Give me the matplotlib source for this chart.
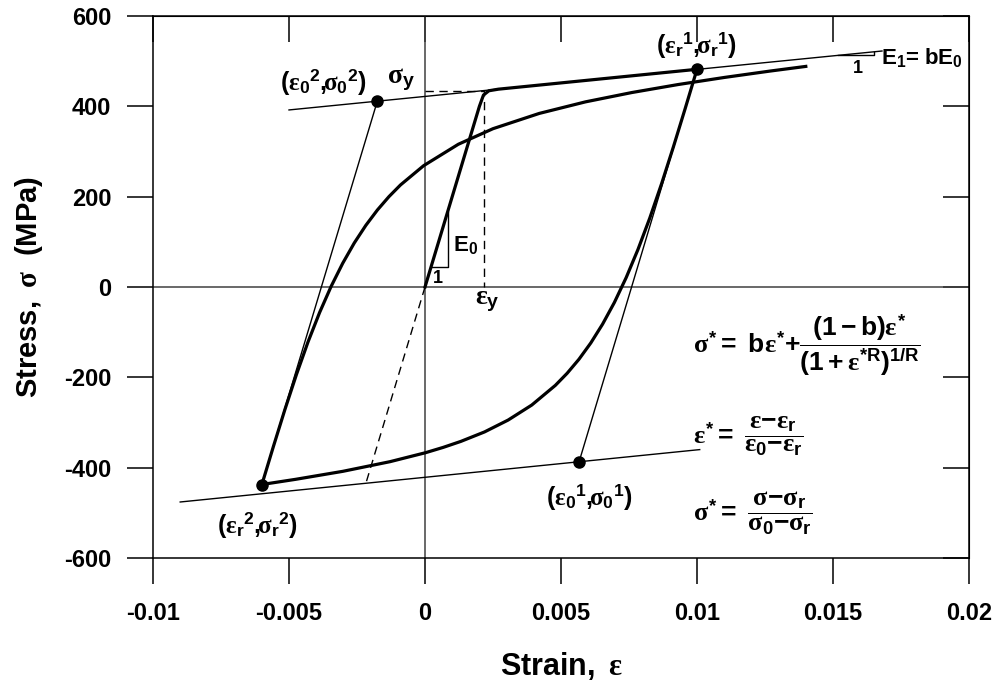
import matplotlib
matplotlib.use("Agg")
import matplotlib.pyplot as plt

plt.rcParams['font.family'] = ['Liberation Sans', 'DejaVu Sans']
plt.rcParams['font.weight'] = 'bold'
plt.rcParams['mathtext.fontset'] = 'custom'
plt.rcParams['mathtext.rm'] = 'Liberation Serif'
plt.rcParams['mathtext.it'] = 'Liberation Serif'
plt.rcParams['mathtext.bf'] = 'Liberation Sans:bold'
plt.rcParams['mathtext.sf'] = 'Liberation Sans:bold'

# initial loading (elastic + hardening)
eps_load = [0, 0.0020, 0.00215, 0.00235, 0.0027, 0.01]
sig_load = [0, 400, 425, 434.5, 438, 482]

# first reversal branch (from r1 down to r2)
eps_b1 = [0.01, 0.009566, 0.009132, 0.008698, 0.008264, 0.00783, 0.007396, 0.006962,
          0.006528, 0.006094, 0.00566, 0.005226, 0.004792, 0.003924, 0.003056, 0.002188,
          0.00132, 0.000669, 0.000018, -0.001284, -0.00302, -0.004756, -0.006]
sig_b1 = [482, 395.2, 310.2, 228.7, 152.6, 83.1, 20.8, -34.3,
          -82.3, -124, -160, -191, -217.8, -261.4, -294.6, -320.9,
          -341.8, -355.1, -366.9, -386.7, -408.1, -425.8, -437.3]

# second reversal branch (from r2 up)
eps_b2 = [-0.006, -0.005575, -0.00515, -0.004725, -0.0043, -0.003875, -0.00345, -0.003025,
          -0.0026, -0.002175, -0.00175, -0.001325, -0.0009, -0.00005, 0.001225, 0.0025,
          0.0042, 0.0059, 0.0076, 0.0093, 0.011, 0.0127, 0.014]
sig_b2 = [-438, -353.4, -271.2, -193.5, -121.5, -56.5, 1.5, 52.6,
          97.5, 136.5, 170.5, 200.1, 226.0, 268.6, 316.0, 350.5,
          384.3, 409.9, 430.5, 448.2, 463.9, 478.2, 488.4]

# asymptotes (slope E1)
eps_up = [-0.005, 0.0168]
sig_up = [392, 522.5]
eps_lo = [-0.009, 0.0101]
sig_lo = [-476, -360]

# elastic unload / reload lines
eps_un = [0.01, 0.00566]
sig_un = [482, -388]
eps_re = [-0.006, -0.00175]
sig_re = [-438, 412]

# yield construction lines
eps_y, sig_y = 0.00217, 434
eps_dash = [0, eps_y, eps_y]
sig_dash = [sig_y, sig_y, 0]
eps_dash2 = [0, -eps_y]
sig_dash2 = [0, -sig_y]

# marked points
pt_eps = [0.01, 0.00566, -0.006, -0.00175]
pt_sig = [482, -388, -438, 412]

# slope triangles
tri0_eps = [0.00022, 0.00083, 0.00083]
tri0_sig = [44, 44, 166]
tri1_eps = [0.0152, 0.0165, 0.0165]
tri1_sig = [513, 513, 521]

xticks = [-0.01, -0.005, 0, 0.005, 0.01, 0.015, 0.02]
xlabels = ['-0.01', '-0.005', '0', '0.005', '0.01', '0.015', '0.02']
yticks = [-600, -400, -200, 0, 200, 400, 600]
ylabels = ['-600', '-400', '-200', '0', '200', '400', '600']

fig = plt.figure(figsize=(9.97, 6.87), dpi=100)
ax = fig.add_axes([153/997, 129/687, 816/997, 542/687])

ax.axhline(0, color='#404040', lw=1.1, zorder=1)
ax.axvline(0, color='#404040', lw=1.1, zorder=1)

ax.plot(eps_up, sig_up, color='black', lw=1.0)
ax.plot(eps_lo, sig_lo, color='black', lw=1.0)
ax.plot(eps_un, sig_un, color='black', lw=1.0)
ax.plot(eps_re, sig_re, color='black', lw=1.0)
ax.plot(eps_dash, sig_dash, color='black', lw=1.0, dashes=(6, 4))
ax.plot(eps_dash2, sig_dash2, color='black', lw=1.0, dashes=(6, 4))
ax.plot(tri0_eps, tri0_sig, color='black', lw=1.0)
ax.plot(tri1_eps, tri1_sig, color='black', lw=1.0)

ax.plot(eps_load, sig_load, color='black', lw=2.3, solid_joinstyle='round')
ax.plot(eps_b1, sig_b1, color='black', lw=2.3, solid_joinstyle='round')
ax.plot(eps_b2, sig_b2, color='black', lw=2.3, solid_joinstyle='round')
ax.plot(pt_eps, pt_sig, 'o', color='black', ms=8, zorder=5)

ax.set_xlim(-0.01, 0.02)
ax.set_ylim(-600, 600)
ax.set_xticks(xticks)
ax.set_xticklabels(xlabels)
ax.set_yticks(yticks)
ax.set_yticklabels(ylabels)
ax.tick_params(direction='out', length=19, width=1.1, labelsize=17)
ax.tick_params(axis='x', pad=13)
ax.tick_params(axis='y', pad=11)
for s in ax.spines.values():
    s.set_linewidth(1.1)

top = ax.secondary_xaxis('top')
top.set_xticks(xticks)
top.tick_params(direction='in', length=19, width=1.1, labeltop=False)
right = ax.secondary_yaxis('right')
right.set_yticks(yticks)
right.tick_params(direction='in', length=19, width=1.1, labelright=False)

ax.set_xlabel(r"$\mathbf{Strain,}\ \varepsilon$", fontsize=22, labelpad=18)
ax.set_ylabel(r"$\mathbf{Stress,}\ \sigma\ \ \mathbf{(MPa)}$", fontsize=21, labelpad=14)

# annotations
fs = 18


def pt_label(a, b):
    return (r"$\mathbf{(}\varepsilon_{\mathbf{%s}}{}^{\mathbf{%s}}\mathbf{,}\!\sigma_{\mathbf{%s}}{}^{\mathbf{%s}}\mathbf{)}$"
            % (a, b, a, b))


ax.text(0.01, 536, pt_label('r', '1'), fontsize=fs, ha='center', va='center')
ax.text(-0.00375, 454, pt_label('0', '2'), fontsize=fs, ha='center', va='center')
ax.text(-0.00614, -527, pt_label('r', '2'), fontsize=fs, ha='center', va='center')
ax.text(0.00603, -465, pt_label('0', '1'), fontsize=fs, ha='center', va='center')
ax.text(-0.0009, 458, r"$\sigma_{\mathbf{y}}$", fontsize=20, ha='center', va='center')
ax.text(0.0023, -30, r"$\varepsilon_{\mathbf{y}}$", fontsize=20, ha='center', va='center')
ax.text(0.00103, 93, r"E$_{\mathbf{0}}$", fontsize=16, ha='left', va='center')
ax.text(0.00048, 18, "1", fontsize=13, ha='center', va='center')
ax.text(0.01676, 508, r"E$_{\mathbf{1}}$= bE$_{\mathbf{0}}$", fontsize=16, ha='left', va='center')
ax.text(0.0159, 484, "1", fontsize=13, ha='center', va='center')

ax.text(0.00985, -128,
        r"$\sigma^{\mathbf{*}}\mathbf{=\ b}\varepsilon^{\mathbf{*}}\mathbf{+}"
        r"\dfrac{\mathbf{(1-b)}\varepsilon^{\mathbf{*}}}{\mathbf{(1+}\varepsilon^{\mathbf{*R}}\mathbf{)}^{\mathbf{1/R}}}$",
        fontsize=19, ha='left', va='center')
ax.text(0.00985, -330,
        r"$\varepsilon^{\mathbf{*}}\mathbf{=}\ \dfrac{\varepsilon\mathbf{-}\varepsilon_{\mathbf{r}}}"
        r"{\varepsilon_{\mathbf{0}}\mathbf{-}\varepsilon_{\mathbf{r}}}$",
        fontsize=19, ha='left', va='center')
ax.text(0.00985, -500,
        r"$\sigma^{\mathbf{*}}\mathbf{=}\ \dfrac{\sigma\mathbf{-}\sigma_{\mathbf{r}}}"
        r"{\sigma_{\mathbf{0}}\mathbf{-}\sigma_{\mathbf{r}}}$",
        fontsize=19, ha='left', va='center')

fig.savefig("out.png", dpi=100)
